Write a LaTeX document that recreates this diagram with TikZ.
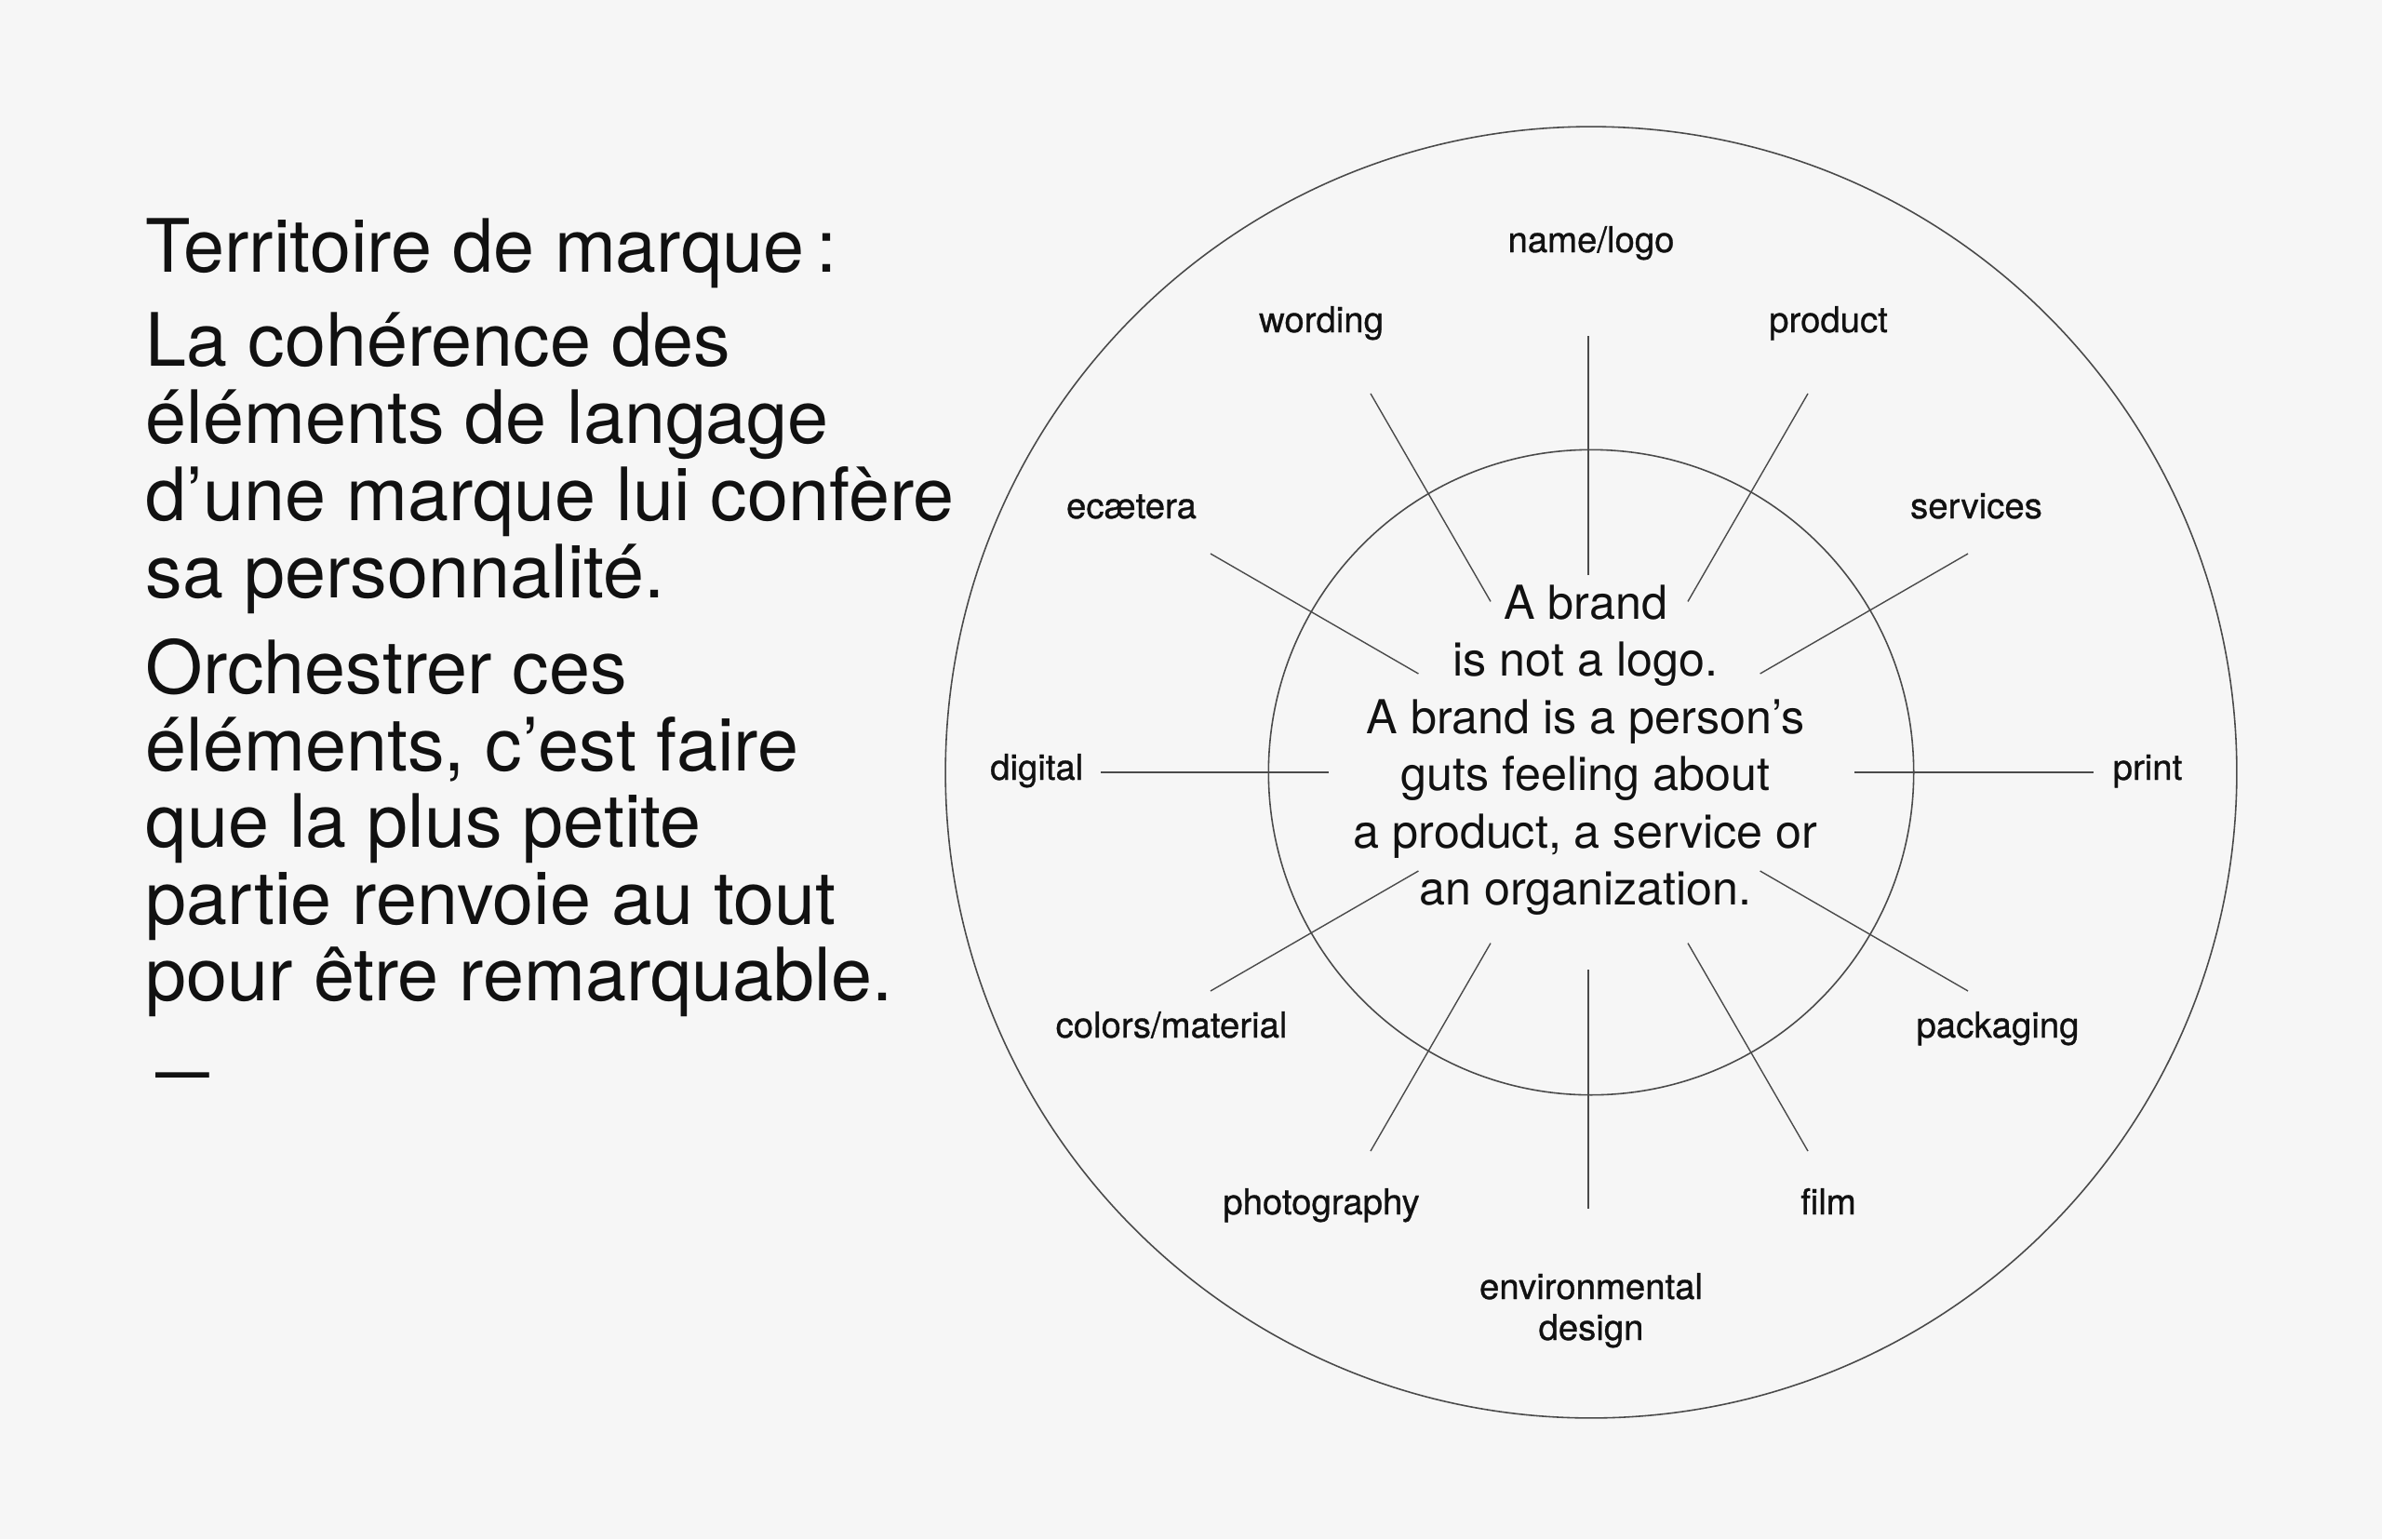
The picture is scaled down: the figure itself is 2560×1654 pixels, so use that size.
\documentclass[tikz,border=0pt]{standalone}
\usepackage{graphicx}
\usepackage{fontspec}
\setmainfont{TeX Gyre Heros}
\newfontfamily\labelfont[FakeBold=0.8]{TeX Gyre Heros}
\definecolor{bg}{HTML}{F6F6F6}
\definecolor{ink}{HTML}{111111}
\definecolor{rulegray}{HTML}{4A4A4A}
\tikzset{
  big/.style={font=\fontsize{22.5}{23.5}\selectfont, text=ink, inner sep=0pt, anchor=base west},
  ctr/.style={font=\fontsize{14.3}{17.5}\selectfont, text=ink, inner sep=0pt, anchor=base},
  lbl/.style={font=\labelfont\fontsize{10.9}{12}\selectfont, text=ink, inner sep=0pt, anchor=base},
  ring/.style={draw=rulegray, line width=0.45pt},
  spoke/.style={draw=rulegray, line width=0.4pt},
}
\begin{document}
\begin{tikzpicture}[x=0.01cm,y=-0.01cm]
\fill[bg] (0,0) rectangle (2560,1654);
\useasboundingbox (0,0) rectangle (2560,1654);

% left text
\node[big] (t0) at (156,292) {Territoire de marque\,:};
\node[big] (t1) at (156,393) {La cohérence des};
\node[big] (t2) at (156,476) {éléments de langage};
\node[big] (t3) at (156,559) {d’une marque lui confère};
\node[big] (t4) at (156,642) {sa personnalité.};
\node[big] (t5) at (156,745) {Orchestrer ces};
\node[big] (t6) at (156,828) {éléments, c’est faire};
\node[big] (t7) at (156,910) {que la plus petite};
\node[big] (t8) at (156,993) {partie renvoie au tout};
\node[big] (t9) at (156,1075) {pour être remarquable.};
\node[big] (dash) at (167,1177) {\scalebox{0.73}[1]{—}};

% circles
\coordinate (O) at (1710,830);
\coordinate (C) at (1708,830);
\draw[ring] (O) circle[radius=6.935cm];
\draw[ring] (O) circle[radius=3.465cm];

% diagonal spokes
\foreach \a [count=\i] in {30,60,120,150,210,240,300,330}{
  \coordinate (si\i) at ([shift={(\a:212)}]C);
  \coordinate (so\i) at ([shift={(\a:470)}]C);
  \draw[spoke] (si\i) -- (so\i);
}
% vertical spokes
\coordinate (vt1) at (1707,618);
\coordinate (vt2) at (1707,361);
\coordinate (vb1) at (1707,1042);
\coordinate (vb2) at (1707,1299);
\draw[spoke] (vt1) -- (vt2);
\draw[spoke] (vb1) -- (vb2);
% horizontal spokes
\coordinate (hl1) at (1428,830);
\coordinate (hl2) at (1183,830);
\coordinate (hr1) at (1993,830);
\coordinate (hr2) at (2250,830);
\draw[spoke] (hl1) -- (hl2);
\draw[spoke] (hr1) -- (hr2);

% center text
\node[ctr] (c1) at (1704,665) {A brand};
\node[ctr] (c2) at (1704,726) {is not a logo.};
\node[ctr] (c3) at (1704,788) {A brand is a person’s};
\node[ctr] (c4) at (1704,849) {guts feeling about};
\node[ctr] (c5) at (1704,911) {a product, a service or};
\node[ctr] (c6) at (1704,972) {an organization.};

% labels
\node[lbl] (name) at (1710,271) {name/logo};
\node[lbl] (wording) at (1420,357) {wording};
\node[lbl] (product) at (1965,357) {product};
\node[lbl] (ecaetera) at (1216,557) {ecætera};
\node[lbl] (services) at (2124,557) {services};
\node[lbl, anchor=base east] (digital) at (1165,838) {digital};
\node[lbl, anchor=base west] (print) at (2270,838) {print};
\node[lbl] (colors) at (1259,1115) {colors/material};
\node[lbl] (packaging) at (2147,1115) {packaging};
\node[lbl] (photo) at (1420,1305) {photography};
\node[lbl] (film) at (1965,1305) {film};
\node[lbl] (env1) at (1710,1396) {environmental};
\node[lbl] (env2) at (1710,1440) {design};
\end{tikzpicture}
\end{document}
